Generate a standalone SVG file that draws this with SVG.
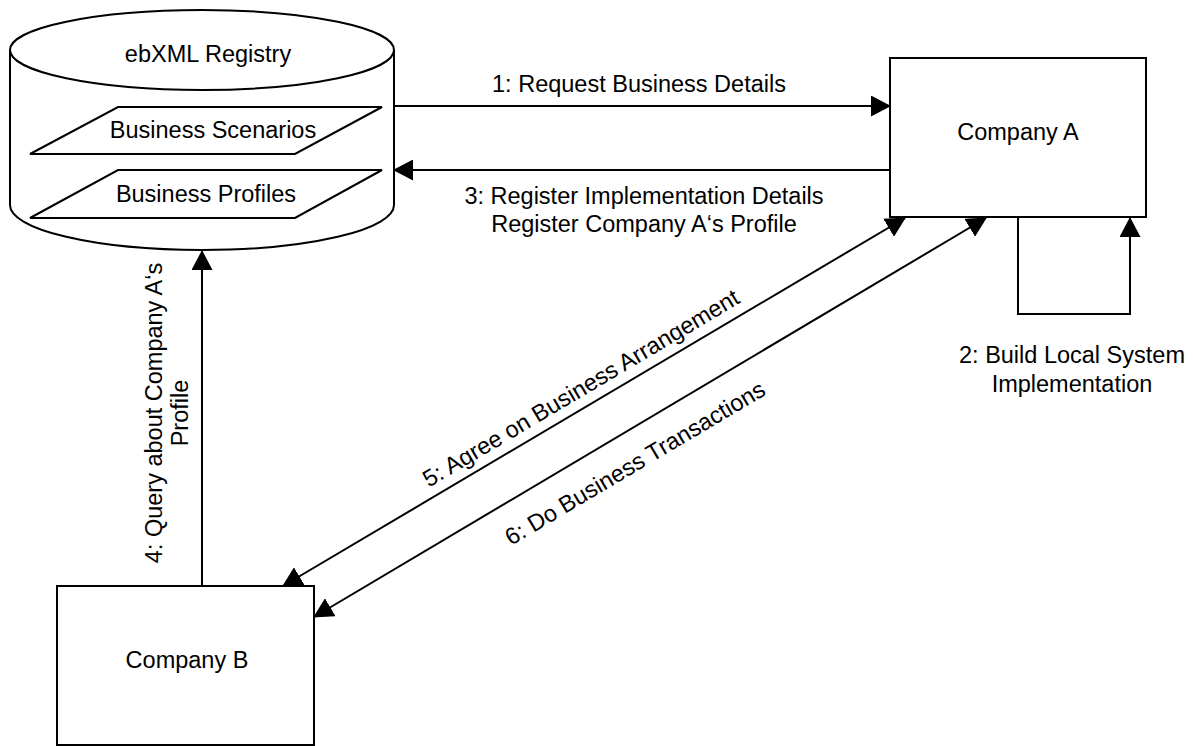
<svg xmlns="http://www.w3.org/2000/svg" width="1193" height="746" viewBox="0 0 1193 746">
  <style>
    .shape { fill: #ffffff; stroke: #000000; stroke-width: 2; }
    .conn { fill: none; stroke: #000000; stroke-width: 2; }
    .lbl { font-family: "Liberation Sans", Arial, sans-serif; font-size: 23.5px; fill: #000000; text-anchor: middle; }
  </style>
  <defs>
    <marker id="arrow" viewBox="0 0 20 21" markerWidth="20" markerHeight="21" refX="19" refY="10.5" orient="auto-start-reverse" markerUnits="userSpaceOnUse">
      <path d="M0,0 L20,10.5 L0,21 z" fill="#000000"/>
    </marker>
  </defs>
  <rect width="1193" height="746" fill="#ffffff"/>

  <g id="registry">
    <path class="shape" d="M10,50 L10,205 A192,45 0 0 0 394,205 L394,50"/>
    <ellipse class="shape" cx="202" cy="50" rx="192" ry="40"/>
    <text class="lbl" x="208" y="62">ebXML Registry</text>
  </g>
  <g id="business-scenarios">
    <polygon class="shape" points="118,107 382,107 295,154 30,154"/>
    <text class="lbl" x="213" y="138">Business Scenarios</text>
  </g>
  <g id="business-profiles">
    <polygon class="shape" points="118,170 382,170 295,218 30,218"/>
    <text class="lbl" x="206" y="202">Business Profiles</text>
  </g>

  <g id="company-a">
    <rect class="shape" x="890" y="58" width="256" height="159"/>
    <text class="lbl" x="1018" y="140">Company A</text>
  </g>

  <g id="company-b">
    <rect class="shape" x="57" y="586" width="257" height="159"/>
    <text class="lbl" x="187" y="668">Company B</text>
  </g>

  <g id="connectors">
    <path class="conn" d="M394,106 L890,106" marker-end="url(#arrow)"/>
    <path class="conn" d="M890,170 L394,170" marker-end="url(#arrow)"/>
    <path class="conn" d="M1018,217 L1018,314 L1130,314 L1130,218" marker-end="url(#arrow)"/>
    <path class="conn" d="M202,586 L202,251" marker-end="url(#arrow)"/>
    <path class="conn" d="M283,586 L905,218" marker-start="url(#arrow)" marker-end="url(#arrow)"/>
    <path class="conn" d="M314,617 L986,218" marker-start="url(#arrow)" marker-end="url(#arrow)"/>

    <text class="lbl" x="639" y="92">1: Request Business Details</text>
    <text class="lbl" x="1072" y="363">2: Build Local System</text>
    <text class="lbl" x="1072" y="392">Implementation</text>
    <text class="lbl" x="644" y="204">3: Register Implementation Details</text>
    <text class="lbl" x="644" y="232">Register Company A‘s Profile</text>
    <g transform="translate(162,413) rotate(-90)">
      <text class="lbl" x="0" y="0">4: Query about Company A‘s</text>
      <text class="lbl" x="0" y="26">Profile</text>
    </g>
    <text class="lbl" transform="translate(585,395) rotate(-30.7)" x="0" y="0">5: Agree on Business Arrangement</text>
    <text class="lbl" transform="translate(639,470) rotate(-30.7)" x="0" y="0">6: Do Business Transactions</text>
  </g>
</svg>
